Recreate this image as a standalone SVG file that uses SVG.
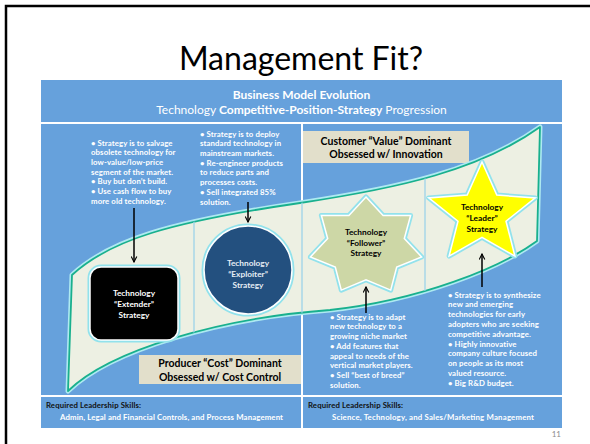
<svg xmlns="http://www.w3.org/2000/svg" width="590" height="444" viewBox="0 0 590 444">
<defs>
<style>
.t{font-family:Lato,"Liberation Sans",Arial,sans-serif}
.b{font-weight:bold}
.panel{fill:#66a1dc}
.beige{fill:#e2dfcb}
.bul{font-family:Lato,"Liberation Sans",Arial,sans-serif;font-weight:bold;font-size:7.8px;letter-spacing:0.1px;fill:#ffffff}
.node{font-family:Lato,"Liberation Sans",Arial,sans-serif;font-weight:bold;font-size:8.3px;text-anchor:middle}
.glow{fill:none;stroke:#92e2ec;stroke-width:5;stroke-linejoin:round}
.edge{stroke:#ffffff;stroke-width:1.5}
.arrow{stroke:#000000;stroke-width:1.5;fill:none;marker-end:url(#ah)}
.div{stroke:#9dd3ea;stroke-width:1.3}
.foot{font-family:Lato,"Liberation Sans",Arial,sans-serif;font-weight:bold;font-size:7.8px}
</style>
<marker id="ah" viewBox="0 0 10 10" refX="9" refY="5" markerWidth="7" markerHeight="7" markerUnits="userSpaceOnUse" orient="auto">
<path d="M1,1 L9,5 L1,9" fill="none" stroke="#000" stroke-width="1.6"/>
</marker>
<path id="band" d="M72,275 C110,240 170,222 300,203 C400,188 480,170 540,127 L537,241 C500,268 420,300 330,310 C220,318 110,350 68,391 Z"/>
<clipPath id="bandclip"><use href="#band"/></clipPath>
</defs>

<rect width="590" height="444" fill="#ffffff"/>
<path d="M6,444 L6,6 L590,6" fill="none" stroke="#000000" stroke-width="2.5"/>

<text class="t" x="301" y="70" font-size="32" text-anchor="middle" fill="#000">Management Fit?</text>

<g id="header">
<rect class="panel" x="41" y="80" width="521" height="42"/>
<text class="t b" x="301.5" y="99" font-size="12" text-anchor="middle" fill="#fff">Business Model Evolution</text>
<text class="t" x="301.5" y="114" font-size="12" text-anchor="middle" fill="#fff">Technology <tspan class="b">Competitive-Position-Strategy</tspan> Progression</text>
</g>

<g id="panels">
<rect class="panel" x="41" y="124" width="260" height="271"/>
<rect class="panel" x="303" y="124" width="259" height="271"/>
</g>

<g id="customer-box">
<rect class="beige" x="303" y="131" width="166" height="32"/>
<text class="t b" x="386" y="145" font-size="10.5" text-anchor="middle" fill="#000">Customer “Value” Dominant</text>
<text class="t b" x="386" y="158" font-size="10.5" text-anchor="middle" fill="#000">Obsessed w/ Innovation</text>
</g>

<g id="producer-box">
<rect class="beige" x="139" y="355" width="162" height="29"/>
<text class="t b" x="220" y="367" font-size="10.5" text-anchor="middle" fill="#000">Producer “Cost” Dominant</text>
<text class="t b" x="220" y="381" font-size="10.5" text-anchor="middle" fill="#000">Obsessed w/ Cost Control</text>
</g>

<g id="band-group">
<use href="#band" fill="none" stroke="#aeeaf1" stroke-width="5" stroke-linejoin="round"/>
<use href="#band" fill="#edf0e3" stroke="#19b08e" stroke-width="1.8" stroke-linejoin="round"/>
<g clip-path="url(#bandclip)">
<line class="div" x1="194" y1="120" x2="194" y2="400"/>
<line class="div" x1="302" y1="120" x2="302" y2="400"/>
<line class="div" x1="425" y1="120" x2="425" y2="400"/>
</g>
</g>

<g id="extender">
<rect class="glow" x="90" y="267" width="88" height="73" rx="11"/>
<rect class="edge" x="90" y="267" width="88" height="73" rx="11" fill="#000000"/>
<text class="node" fill="#ffffff"><tspan x="134" y="296">Technology</tspan><tspan x="134" y="307">“Extender”</tspan><tspan x="134" y="318">Strategy</tspan></text>
</g>

<g id="exploiter">
<circle class="glow" cx="248" cy="270" r="44"/>
<circle class="edge" cx="248" cy="270" r="44" fill="#23507f"/>
<text class="node" fill="#e6edf5"><tspan x="248" y="266">Technology</tspan><tspan x="248" y="277">“Exploiter”</tspan><tspan x="248" y="288">Strategy</tspan></text>
</g>

<g id="follower">
<polygon class="glow" points="366,197 383.1,215.5 410.6,215.4 404.3,238.5 421.6,256.9 396.7,267.1 390.7,290.1 366,279.8 341.3,290.1 335.3,267.1 310.4,256.9 327.7,238.5 321.4,215.4 348.9,215.5"/>
<polygon class="edge" fill="#cdd7a6" points="366,197 383.1,215.5 410.6,215.4 404.3,238.5 421.6,256.9 396.7,267.1 390.7,290.1 366,279.8 341.3,290.1 335.3,267.1 310.4,256.9 327.7,238.5 321.4,215.4 348.9,215.5"/>
<text class="node" fill="#000"><tspan x="366" y="235">Technology</tspan><tspan x="366" y="245.5">“Follower”</tspan><tspan x="366" y="256">Strategy</tspan></text>
</g>

<g id="leader">
<polygon class="glow" points="482,162 496.8,195.1 535.3,197.9 506,221.2 514.9,256.1 482,237.4 449.1,256.1 458,221.2 428.7,197.9 467.2,195.1"/>
<polygon class="edge" fill="#ffff00" points="482,162 496.8,195.1 535.3,197.9 506,221.2 514.9,256.1 482,237.4 449.1,256.1 458,221.2 428.7,197.9 467.2,195.1"/>
<text class="node" fill="#000"><tspan x="482" y="210">Technology</tspan><tspan x="482" y="221">“Leader”</tspan><tspan x="482" y="232">Strategy</tspan></text>
</g>

<g id="connectors">
<line class="arrow" x1="134" y1="208" x2="134" y2="262"/>
<line class="arrow" x1="248" y1="202" x2="248" y2="222"/>
<line class="arrow" x1="366" y1="313" x2="366" y2="287"/>
<line class="arrow" x1="482" y1="287" x2="482" y2="254"/>
</g>

<g id="text-extender">
<text class="bul"><tspan x="91" y="145.6">•  Strategy is to salvage</tspan><tspan x="91" dy="9.67">obsolete technology for</tspan><tspan x="91" dy="9.67">low-value/low-price</tspan><tspan x="91" dy="9.67">segment of the market.</tspan><tspan x="91" dy="9.67">•  Buy but don’t build.</tspan><tspan x="91" dy="9.67">•  Use cash flow to buy</tspan><tspan x="91" dy="9.67">more old technology.</tspan></text>
</g>
<g id="text-exploiter">
<text class="bul"><tspan x="200" y="136.6">•  Strategy is to deploy</tspan><tspan x="200" dy="9.7">standard technology  in</tspan><tspan x="200" dy="9.7">mainstream markets.</tspan><tspan x="200" dy="9.7">•  Re-engineer products</tspan><tspan x="200" dy="9.7">to reduce parts and</tspan><tspan x="200" dy="9.7">processes costs.</tspan><tspan x="200" dy="9.7">•  Sell integrated 85%</tspan><tspan x="200" dy="9.7">solution.</tspan></text>
</g>
<g id="text-follower">
<text class="bul"><tspan x="330" y="319.6">•  Strategy is to adapt</tspan><tspan x="330" dy="9.75">new technology to a</tspan><tspan x="330" dy="9.75">growing niche market</tspan><tspan x="330" dy="9.75">•  Add features that</tspan><tspan x="330" dy="9.75">appeal to needs of the</tspan><tspan x="330" dy="9.75">vertical market players.</tspan><tspan x="330" dy="9.75">•  Sell “best of breed”</tspan><tspan x="330" dy="9.75">solution.</tspan></text>
</g>
<g id="text-leader">
<text class="bul"><tspan x="448" y="297.6">•  Strategy is to synthesize</tspan><tspan x="448" dy="9.78">new and emerging</tspan><tspan x="448" dy="9.78">technologies for early</tspan><tspan x="448" dy="9.78">adopters who are seeking</tspan><tspan x="448" dy="9.78">competitive advantage.</tspan><tspan x="448" dy="9.78">•  Highly innovative</tspan><tspan x="448" dy="9.78">company culture focused</tspan><tspan x="448" dy="9.78">on people as its most</tspan><tspan x="448" dy="9.78">valued resource.</tspan><tspan x="448" dy="9.78">•  Big R&amp;D budget.</tspan></text>
</g>

<g id="footer-left">
<rect class="panel" x="41" y="397" width="260" height="31"/>
<text class="foot" x="46" y="408" fill="#111" textLength="95" lengthAdjust="spacing">Required Leadership Skills:</text>
<text class="foot" x="60" y="420" fill="#fff" textLength="223" lengthAdjust="spacing">Admin, Legal and Financial Controls, and Process Management</text>
</g>
<g id="footer-right">
<rect class="panel" x="303" y="397" width="259" height="31"/>
<text class="foot" x="308" y="408" fill="#111" textLength="95" lengthAdjust="spacing">Required Leadership Skills:</text>
<text class="foot" x="332" y="420" fill="#fff" textLength="202" lengthAdjust="spacing">Science, Technology, and Sales/Marketing Management</text>
</g>

<text class="t" x="561" y="437" font-size="8" text-anchor="end" fill="#8c8c8c">11</text>
</svg>
